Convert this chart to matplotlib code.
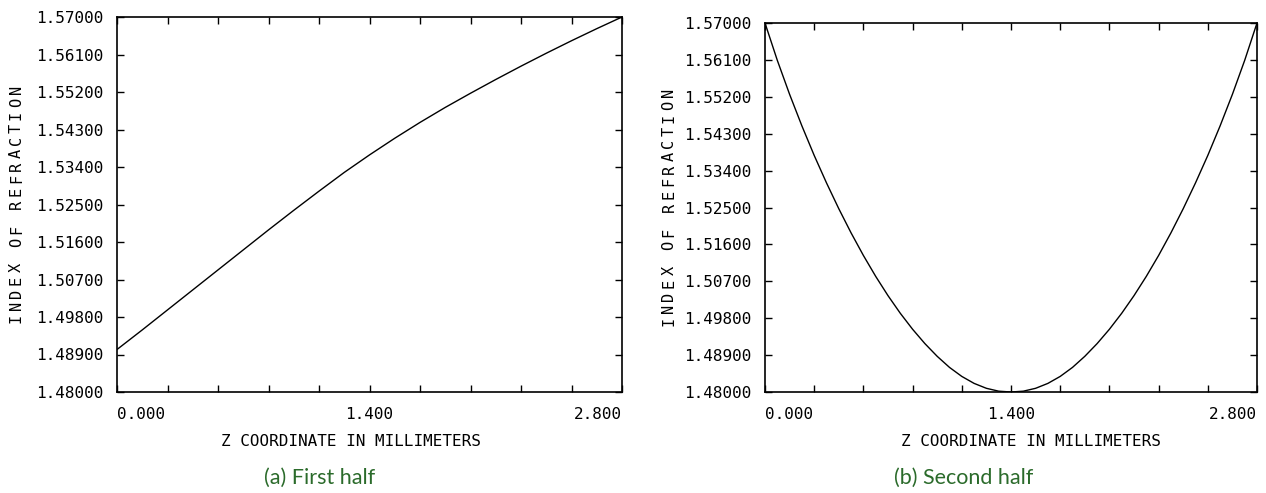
import matplotlib.pyplot as plt
from matplotlib.ticker import MultipleLocator, FixedLocator, FormatStrFormatter

z_first = [0.00, 0.14, 0.28, 0.42, 0.56, 0.70, 0.84, 0.98, 1.12, 1.26, 1.40,
           1.54, 1.68, 1.82, 1.96, 2.10, 2.24, 2.38, 2.52, 2.66, 2.80]

# index of refraction, first half
n_first = [1.4902, 1.4949, 1.4997, 1.5045, 1.5093, 1.5141, 1.5189, 1.5236,
           1.5282, 1.5327, 1.5369, 1.5409, 1.5447, 1.5483, 1.5517, 1.5550,
           1.5582, 1.5613, 1.5643, 1.5672, 1.5700]

# second half is steeper, read on a finer grid
z_second = [0.00, 0.07, 0.14, 0.21, 0.28, 0.35, 0.42, 0.49, 0.56, 0.63, 0.70,
            0.77, 0.84, 0.91, 0.98, 1.05, 1.12, 1.19, 1.26, 1.33, 1.40,
            1.47, 1.54, 1.61, 1.68, 1.75, 1.82, 1.89, 1.96, 2.03, 2.10,
            2.17, 2.24, 2.31, 2.38, 2.45, 2.52, 2.59, 2.66, 2.73, 2.80]

n_second = [1.5700, 1.5609, 1.5526, 1.5449, 1.5377, 1.5310, 1.5247, 1.5188,
            1.5133, 1.5082, 1.5035, 1.4992, 1.4953, 1.4918, 1.4887, 1.4860,
            1.4838, 1.4821, 1.4809, 1.4802, 1.4800, 1.4802, 1.4809, 1.4821,
            1.4838, 1.4860, 1.4887, 1.4918, 1.4953, 1.4992, 1.5035, 1.5082,
            1.5133, 1.5188, 1.5247, 1.5310, 1.5377, 1.5449, 1.5526, 1.5609,
            1.5700]

y_ticks = [1.480, 1.489, 1.498, 1.507, 1.516, 1.525, 1.534, 1.543, 1.552, 1.561, 1.570]
x_major = [0.0, 1.4, 2.8]

mono = 'DejaVu Sans Mono'
green = '#2b6b2b'
W, H = 1266, 493

fig = plt.figure(figsize=(12.66, 4.93), dpi=100)

panels = [
    # (left px, top px, right px, bottom px, z, n, caption, xlabel centre, caption centre, ylabel x)
    (117, 17, 622, 392, z_first, n_first, '(a) First half', 351, 320, 16.5),
    (765, 23, 1257, 392, z_second, n_second, '(b) Second half', 1031, 964, 669),
]

for left, top, right, bottom, z_vals, n_vals, caption, xl_c, cap_c, yl_x in panels:
    ax = fig.add_axes([left / W, 1 - bottom / H, (right - left) / W, (bottom - top) / H])
    ax.plot(z_vals, n_vals, color='black', lw=1.0)
    ax.set_xlim(0, 2.8)
    ax.set_ylim(1.48, 1.57)

    ax.xaxis.set_major_locator(FixedLocator(x_major))
    ax.xaxis.set_minor_locator(MultipleLocator(0.28))
    ax.xaxis.set_major_formatter(FormatStrFormatter('%.3f'))
    ax.yaxis.set_major_locator(FixedLocator(y_ticks))
    ax.yaxis.set_major_formatter(FormatStrFormatter('%.5f'))

    ax.tick_params(which='both', direction='in', top=True, right=True,
                   length=5, width=1.0, labelsize=11.5)
    ax.tick_params(axis='y', pad=10)
    ax.tick_params(axis='x', pad=11)
    for lab in ax.get_xticklabels() + ax.get_yticklabels():
        lab.set_fontfamily(mono)
    xl = ax.get_xticklabels()
    xl[0].set_ha('left')
    xl[-1].set_ha('right')

    for sp in ax.spines.values():
        sp.set_linewidth(1.2)

    fig.text(xl_c / W, 1 - 441 / H, 'Z COORDINATE IN MILLIMETERS', family=mono,
             fontsize=11.5, ha='center', va='center')
    fig.text(cap_c / W, 1 - 478 / H, caption, family='Lato', fontsize=15.5,
             color=green, ha='center', va='center')

    # y label: letters set wide apart, as in the original plotter output
    label = 'INDEX OF REFRACTION'
    y0 = (top + bottom) / 2 + 114
    for i, ch in enumerate(label):
        fig.text(yl_x / W, 1 - (y0 - i * 12.7) / H, ch, family=mono, fontsize=11,
                 rotation=90, ha='center', va='center')

fig.savefig('out.png', dpi=100)
